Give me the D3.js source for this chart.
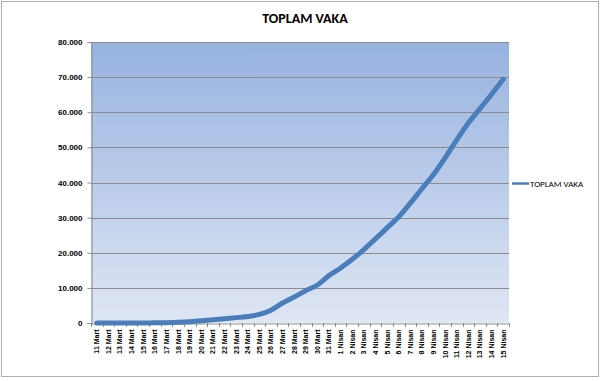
<!DOCTYPE html>
<html><head><meta charset="utf-8">
<script src="https://cdn.jsdelivr.net/npm/d3@7"></script>
<style>body{margin:0;background:#fff;}svg{display:block;font-family:Calibri,"Liberation Sans",Arial,sans-serif;}</style>
</head><body>
<svg id="c" width="614" height="381"></svg>
<script>
const categories = ["11 Mart","12 Mart","13 Mart","14 Mart","15 Mart","16 Mart","17 Mart","18 Mart","19 Mart","20 Mart","21 Mart","22 Mart","23 Mart","24 Mart","25 Mart","26 Mart","27 Mart","28 Mart","29 Mart","30 Mart","31 Mart","1 Nisan","2 Nisan","3 Nisan","4 Nisan","5 Nisan","6 Nisan","7 Nisan","8 Nisan","9 Nisan","10 Nisan","11 Nisan","12 Nisan","13 Nisan","14 Nisan","15 Nisan"];
const values = [1,1,5,6,18,47,98,191,359,670,947,1236,1529,1872,2433,3629,5698,7402,9217,10827,13531,15679,18135,20921,23934,27069,30217,34109,38226,42282,47029,52167,56956,61049,65111,69392];
const yTicks = [0,10000,20000,30000,40000,50000,60000,70000,80000];
const yTickLabels = ["0","10.000","20.000","30.000","40.000","50.000","60.000","70.000","80.000"];
const seriesName = "TOPLAM VAKA";
const title = "TOPLAM VAKA";

const svg = d3.select("#c");
const L = 91, R = 509, T = 42, B = 323;

// outer frame
svg.append("rect").attr("x",1.5).attr("y",1.5).attr("width",597).attr("height",375)
  .attr("fill","#fff").attr("stroke","#b0b0b0").attr("stroke-width",1);

const defs = svg.append("defs");
const g = defs.append("linearGradient").attr("id","bg").attr("x1",0).attr("y1",0).attr("x2",0).attr("y2",1);
g.append("stop").attr("offset","0%").attr("stop-color","#97b2e0");
g.append("stop").attr("offset","100%").attr("stop-color","#dfe6f4");

svg.append("rect").attr("x",L).attr("y",T).attr("width",R-L).attr("height",B-T).attr("fill","url(#bg)");

const x = d3.scaleBand().domain(categories).range([L,R]).padding(0);
const y = d3.scaleLinear().domain([0,80000]).range([B,T]);

// gridlines
svg.append("g").selectAll("line").data(yTicks.filter(d=>d>0)).join("line")
  .attr("x1",L).attr("x2",R).attr("y1",d=>Math.round(y(d))+0.5).attr("y2",d=>Math.round(y(d))+0.5)
  .attr("stroke","#8c8c8c").attr("stroke-width",1);

// y axis
const yAxis = d3.axisLeft(y).tickValues(yTicks).tickFormat((d,i)=>yTickLabels[i]).tickSize(4).tickPadding(5);
const ya = svg.append("g").attr("transform",`translate(${L+0.5},0)`).call(yAxis);
ya.select(".domain").attr("stroke","#8c8c8c");
ya.selectAll(".tick line").attr("stroke","#8c8c8c");
ya.selectAll("text").attr("font-size","8px").attr("font-weight","bold").attr("fill","#000");

// x axis
const xAxis = d3.axisBottom(x).tickSize(0).tickPadding(0);
const xa = svg.append("g").attr("transform",`translate(0,${B+0.5})`).call(xAxis);
xa.select(".domain").attr("stroke","#8c8c8c");
xa.selectAll(".tick text").attr("font-size","7px").attr("font-weight","bold").attr("fill","#000")
  .attr("transform","rotate(-90)").attr("text-anchor","end").attr("dy","0.35em").attr("x",-6).attr("y",0);
// boundary tick marks
const bounds = categories.map(c=>x(c)).concat([R]);
svg.append("g").selectAll("line").data(bounds).join("line")
  .attr("x1",d=>Math.round(d)+0.5).attr("x2",d=>Math.round(d)+0.5).attr("y1",B).attr("y2",B+4)
  .attr("stroke","#8c8c8c");

// line
const line = d3.line().x((d,i)=>x(categories[i])+x.bandwidth()/2).y(d=>y(d)).curve(d3.curveMonotoneX);
svg.append("path").datum(values).attr("d",line).attr("fill","none")
  .attr("stroke","#4a7ebb").attr("stroke-width",5).attr("stroke-linecap","round").attr("stroke-linejoin","round");

// title
svg.append("text").attr("x",305).attr("y",23).attr("text-anchor","middle")
  .attr("font-size","14px").attr("font-weight","bold").text(title);

// legend
svg.append("line").attr("x1",512).attr("x2",529).attr("y1",183.5).attr("y2",183.5)
  .attr("stroke","#4a7ebb").attr("stroke-width",2.5);
svg.append("text").attr("x",530).attr("y",186.5).attr("font-size","9px").text(seriesName);
</script>
</body></html>
